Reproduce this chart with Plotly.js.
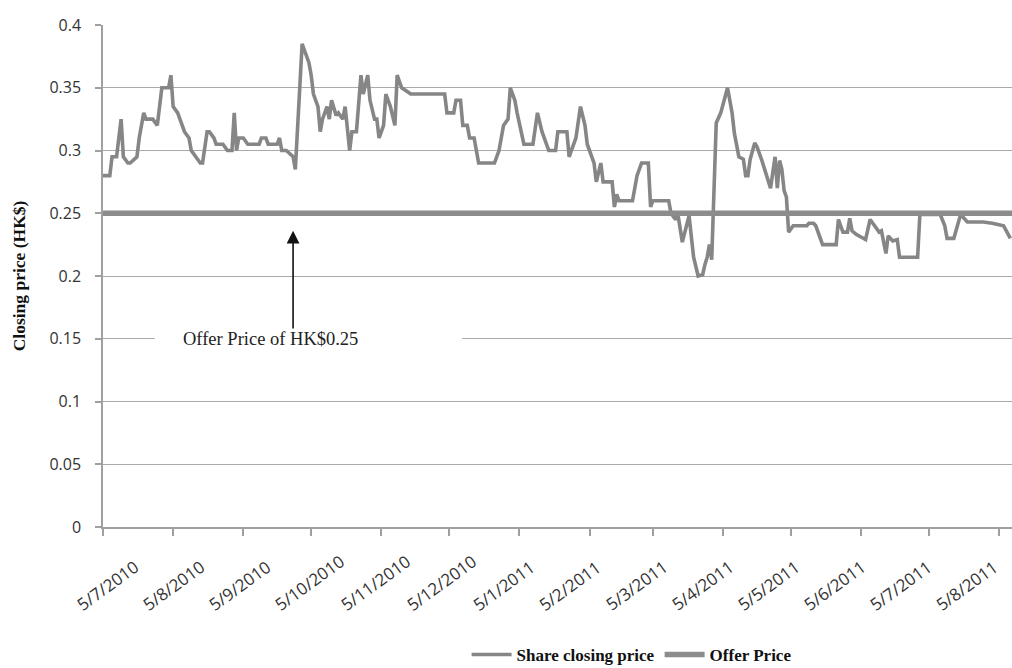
<!DOCTYPE html>
<html>
<head>
<meta charset="utf-8">
<script src="https://cdn.plot.ly/plotly-3.0.1.min.js"></script>
<style>html,body{margin:0;padding:0;background:#fff;}#chart{width:1012px;height:668px;}</style>
</head>
<body>
<div id="chart"></div>
<script>
const dates = [
"2010-07-05","2010-07-08","2010-07-09","2010-07-11","2010-07-13","2010-07-14","2010-07-16","2010-07-17","2010-07-20","2010-07-21",
"2010-07-23","2010-07-24","2010-07-27","2010-07-29","2010-07-31","2010-08-03","2010-08-04","2010-08-05","2010-08-07","2010-08-09",
"2010-08-10","2010-08-12","2010-08-13","2010-08-15","2010-08-17","2010-08-18","2010-08-20","2010-08-21","2010-08-23","2010-08-24",
"2010-08-27","2010-08-29","2010-08-31","2010-09-01","2010-09-02","2010-09-03","2010-09-05","2010-09-07","2010-09-12","2010-09-13",
"2010-09-15","2010-09-16","2010-09-20","2010-09-21","2010-09-22","2010-09-24","2010-09-27","2010-09-28","2010-10-01","2010-10-04",
"2010-10-05","2010-10-06","2010-10-08","2010-10-09","2010-10-10","2010-10-12","2010-10-13","2010-10-14","2010-10-16","2010-10-17",
"2010-10-19","2010-10-20","2010-10-22","2010-10-23","2010-10-25","2010-10-27","2010-10-28","2010-10-30","2010-10-31","2010-11-02",
"2010-11-03","2010-11-04","2010-11-06","2010-11-07","2010-11-09","2010-11-11","2010-11-12","2010-11-14","2010-11-18","2010-12-03",
"2010-12-04","2010-12-07","2010-12-08","2010-12-10","2010-12-11","2010-12-13","2010-12-14","2010-12-16","2010-12-17","2010-12-18",
"2010-12-25","2010-12-27","2010-12-29","2010-12-31","2011-01-01","2011-01-03","2011-01-04","2011-01-06","2011-01-07","2011-01-11",
"2011-01-12","2011-01-13","2011-01-15","2011-01-18","2011-01-21","2011-01-22","2011-01-26","2011-01-27","2011-01-28","2011-01-30",
"2011-02-01","2011-02-03","2011-02-04","2011-02-07","2011-02-08","2011-02-10","2011-02-11","2011-02-15","2011-02-16","2011-02-17",
"2011-02-18","2011-02-24","2011-02-26","2011-02-28","2011-03-03","2011-03-04","2011-03-05","2011-03-12","2011-03-13","2011-03-15",
"2011-03-16","2011-03-18","2011-03-21","2011-03-22","2011-03-23","2011-03-25","2011-03-27","2011-03-28","2011-03-29","2011-03-30",
"2011-03-31","2011-04-02","2011-04-04","2011-04-07","2011-04-09","2011-04-10","2011-04-12","2011-04-14","2011-04-15","2011-04-16",
"2011-04-17","2011-04-19","2011-04-20","2011-04-22","2011-04-24","2011-04-26","2011-04-28","2011-04-29","2011-04-30","2011-05-01",
"2011-05-02","2011-05-03","2011-05-04","2011-05-06","2011-05-12","2011-05-13","2011-05-15","2011-05-16","2011-05-19","2011-05-25",
"2011-05-26","2011-05-28","2011-05-30","2011-05-31","2011-06-01","2011-06-03","2011-06-07","2011-06-09","2011-06-11","2011-06-13",
"2011-06-14","2011-06-16","2011-06-17","2011-06-19","2011-06-21","2011-06-22","2011-06-30","2011-07-01","2011-07-10","2011-07-12",
"2011-07-13","2011-07-16","2011-07-19","2011-07-22","2011-07-29","2011-08-02","2011-08-07","2011-08-10"
];
const closingPrice = [
0.28,0.28,0.295,0.295,0.325,0.295,0.29,0.29,0.295,0.31,
0.33,0.325,0.325,0.32,0.35,0.35,0.36,0.335,0.33,0.32,
0.315,0.31,0.30,0.295,0.29,0.29,0.315,0.315,0.31,0.305,
0.305,0.30,0.30,0.33,0.30,0.31,0.31,0.305,0.305,0.31,
0.31,0.305,0.305,0.31,0.30,0.30,0.295,0.285,0.385,0.37,
0.36,0.345,0.335,0.315,0.325,0.335,0.325,0.34,0.328,0.33,
0.325,0.335,0.30,0.315,0.315,0.36,0.345,0.36,0.34,0.325,
0.325,0.31,0.32,0.345,0.335,0.32,0.36,0.35,0.345,0.345,
0.33,0.33,0.34,0.34,0.32,0.32,0.31,0.31,0.30,0.29,
0.29,0.30,0.32,0.325,0.35,0.34,0.33,0.315,0.305,0.305,
0.32,0.33,0.315,0.30,0.30,0.315,0.315,0.295,0.30,0.31,
0.335,0.32,0.305,0.29,0.275,0.29,0.275,0.275,0.255,0.265,
0.26,0.26,0.28,0.29,0.29,0.255,0.26,0.26,0.25,0.245,
0.25,0.227,0.248,0.23,0.215,0.20,0.201,0.209,0.215,0.225,
0.213,0.322,0.33,0.35,0.33,0.314,0.295,0.293,0.28,0.28,
0.293,0.306,0.303,0.293,0.282,0.27,0.295,0.27,0.292,0.285,
0.268,0.263,0.235,0.24,0.24,0.242,0.242,0.24,0.225,0.225,
0.245,0.235,0.235,0.246,0.236,0.233,0.229,0.245,0.24,0.235,
0.236,0.218,0.232,0.228,0.229,0.215,0.215,0.249,0.249,0.24,
0.23,0.23,0.249,0.243,0.243,0.242,0.24,0.23
];
const offerDates = ["2010-07-05","2011-08-10 17:00"];
const offerPrice = [0.25, 0.25];
const tickDates = ["2010-07-05","2010-08-05","2010-09-05","2010-10-05","2010-11-05","2010-12-05","2011-01-05",
  "2011-02-05","2011-03-05","2011-04-05","2011-05-05","2011-06-05","2011-07-05","2011-08-05"];
const tickLabels = ["5/7/2010","5/8/2010","5/9/2010","5/10/2010","5/11/2010","5/12/2010","5/1/2011",
  "5/2/2011","5/3/2011","5/4/2011","5/5/2011","5/6/2011","5/7/2011","5/8/2011"];
const yTicks = [0,0.05,0.1,0.15,0.2,0.25,0.3,0.35,0.4];
const yTickLabels = ["0","0.05","0.1","0.15","0.2","0.25","0.3","0.35","0.4"];

const plotLeft = 103, plotWidth = 909, plotBottom = 527, plotHeight = 502;
// rotated date labels, evenly spaced and bottom-aligned as in the original
const labelStart = 69, labelStep = 66.1, labelBottom = 618;
const labelAnnotations = tickLabels.map((t, i) => ({
  xref: 'paper', yref: 'paper',
  x: (labelStart + i * labelStep - plotLeft) / plotWidth,
  y: (plotBottom - labelBottom) / plotHeight,
  xanchor: 'left', yanchor: 'bottom', text: t, showarrow: false, textangle: -36,
  font: {family: 'Open Sans, sans-serif', size: 17, color: '#333'}
}));

const traces = [
  {x: dates, y: closingPrice, type: 'scatter', mode: 'lines', name: 'Share closing price',
   line: {color: '#868686', width: 3.6}},
  {x: offerDates, y: offerPrice, type: 'scatter', mode: 'lines', name: 'Offer Price',
   line: {color: '#8c8c8c', width: 5.5}}
];

const layout = {
  width: 1012, height: 668,
  margin: {l: 103, r: 0, t: 25, b: 141, autoexpand: false},
  paper_bgcolor: '#ffffff', plot_bgcolor: '#ffffff',
  showlegend: true,
  legend: {orientation: 'h', x: 0.40, y: -0.255, xanchor: 'left', yanchor: 'middle',
    font: {family: 'Liberation Serif, serif', size: 17, color: '#111', weight: 'bold'},
    itemwidth: 40, tracegroupgap: 0},
  xaxis: {
    type: 'date', range: ["2010-07-05", "2011-08-10 17:00"],
    tickmode: 'array', tickvals: tickDates, ticktext: tickLabels, showticklabels: false,
    ticks: 'outside', ticklen: 7, tickcolor: '#a0a0a0', tickwidth: 1.5,
    showline: true, linecolor: '#a0a0a0', linewidth: 1.5, showgrid: false, zeroline: false
  },
  yaxis: {
    range: [0, 0.4], tickmode: 'array', tickvals: yTicks, ticktext: yTickLabels,
    ticks: 'outside', ticklen: 6, tickcolor: '#a0a0a0', tickwidth: 1.5,
    showline: true, linecolor: '#a0a0a0', linewidth: 1.5,
    showgrid: true, gridcolor: '#aaaaaa', gridwidth: 1.4, zeroline: false,
    tickfont: {family: 'Open Sans, sans-serif', size: 16, color: '#333'},
    ticklabelstandoff: 11,
    title: {text: 'Closing price (HK$)', standoff: 19,
      font: {family: 'Liberation Serif, serif', size: 17.5, color: '#111', weight: 'bold'}}
  },
  shapes: [
    {type: 'rect', xref: 'paper', yref: 'y', x0: 0.057, x1: 0.395, y0: 0.142, y1: 0.158,
     fillcolor: '#ffffff', line: {width: 0}, layer: 'above'}
  ],
  annotations: [
    {xref: 'paper', yref: 'y', x: 0.184, y: 0.15, text: 'Offer Price of HK$0.25', showarrow: false,
     font: {family: 'Liberation Serif, serif', size: 18.5, color: '#222'}, xanchor: 'center', yanchor: 'middle'},
    {xref: 'x', yref: 'y', axref: 'x', ayref: 'y', x: '2010-09-27', y: 0.236, ax: '2010-09-27', ay: 0.157,
     text: '', showarrow: true, arrowhead: 2, arrowsize: 1.6, arrowwidth: 1.6, arrowcolor: '#111'}
  ].concat(labelAnnotations)
};

Plotly.newPlot('chart', traces, layout, {displayModeBar: false, responsive: false});
</script>
</body>
</html>
